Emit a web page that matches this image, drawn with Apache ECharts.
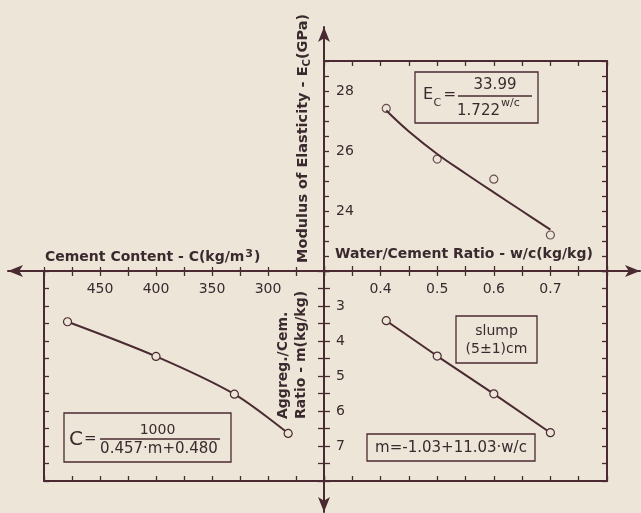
<!DOCTYPE html>
<html>
<head>
<meta charset="utf-8">
<script src="https://cdn.jsdelivr.net/npm/echarts@6/dist/echarts.min.js"></script>
<style>
  html, body { margin: 0; padding: 0; background: #ece5d8; }
  #chart { width: 641px; height: 513px; }
</style>
</head>
<body>
<div id="chart"></div>
<script>
// Modulus of elasticity vs water/cement ratio (upper right quadrant)
const ecPointsWC = [0.41, 0.50, 0.60, 0.70];
const ecPointsE  = [27.42, 25.73, 25.06, 23.20];
const ecCurveWC  = [0.41, 0.45, 0.50, 0.55, 0.60, 0.65, 0.70];
const ecCurveE   = [27.35, 26.65, 25.90, 25.25, 24.62, 24.00, 23.38];

// Aggregate/cement ratio vs water/cement ratio (lower right quadrant)
const mWC    = [0.41, 0.50, 0.60, 0.70];
const mRatio = [3.42, 4.43, 5.51, 6.62];

// Cement content vs aggregate/cement ratio (lower left quadrant)
const cContent = [479, 400, 330, 282];
const cRatio   = [3.45, 4.44, 5.52, 6.64];

// Tick labels
const wcLabels = [0.4, 0.5, 0.6, 0.7];
const ecLabels = [24, 26, 28];
const mLabels  = [3, 4, 5, 6, 7];
const cLabels  = [450, 400, 350, 300];

const INK = '#4a2a31';
const TXT = '#3a2a2e';
const BG = '#ece5d8';
const FONT = '"DejaVu Sans", Verdana, sans-serif';

function pick(list, digits) {
  return function (v) {
    const hit = list.find(l => Math.abs(l - v) < 1e-6);
    return hit === undefined ? '' : hit.toFixed(digits);
  };
}

// value axis helper: line, ticks and labels toggled per use
function axis(o) {
  return {
    type: 'value',
    gridIndex: o.grid,
    position: o.position,
    min: o.min, max: o.max, interval: o.interval,
    inverse: !!o.inverse,
    axisLine: { show: !!o.line, onZero: false, lineStyle: { color: INK, width: 2 } },
    axisTick: { show: o.tick !== false, inside: o.tickInside !== false, length: o.tickLen || 5,
                lineStyle: { color: INK, width: 1.3 } },
    axisLabel: o.labels ? { show: true, inside: true, margin: o.margin || 10,
                             formatter: o.labels, color: TXT, fontSize: 14, fontFamily: FONT }
                        : { show: false },
    splitLine: { show: false }
  };
}

const wcAxis = { min: 0.3, max: 0.8, interval: 0.05 };
const ecAxis = { min: 22, max: 29, interval: 0.5 };
const mAxis  = { min: 2, max: 8, interval: 0.5, inverse: true };
const cAxis  = { min: 250, max: 500, interval: 25, inverse: true };

function txt(x, y, text, size, align, extra) {
  return Object.assign({ type: 'text', x: x, y: y,
    style: { text: text, font: size + 'px ' + FONT, fill: TXT, align: align || 'center', verticalAlign: 'middle' } },
    extra || {});
}

const option = {
  backgroundColor: BG,
  animation: false,
  grid: [
    { left: 8, top: 27, width: 632, height: 485 },     // crossing main axes
    { left: 324, top: 61, width: 283, height: 210 },   // E_c vs w/c
    { left: 324, top: 271, width: 283, height: 210 },  // m vs w/c
    { left: 44, top: 271, width: 280, height: 210 }    // m vs C
  ],
  xAxis: [
    { type: 'value', gridIndex: 0, min: -316, max: 316,
      axisLine: { show: true, onZero: true, symbol: ['arrow', 'arrow'], symbolSize: [9, 15],
                  lineStyle: { color: INK, width: 2 } },
      axisTick: { show: false }, axisLabel: { show: false }, splitLine: { show: false } },
    axis(Object.assign({ grid: 1, position: 'bottom' }, wcAxis)),
    axis(Object.assign({ grid: 1, position: 'top', line: true }, wcAxis)),
    axis(Object.assign({ grid: 2, position: 'top', labels: pick(wcLabels, 1), margin: 11 }, wcAxis)),
    axis(Object.assign({ grid: 2, position: 'bottom', line: true }, wcAxis)),
    axis(Object.assign({ grid: 3, position: 'top', labels: pick(cLabels, 0), margin: 11 }, cAxis)),
    axis(Object.assign({ grid: 3, position: 'top', tickInside: false, tickLen: 4 }, cAxis)),
    axis(Object.assign({ grid: 3, position: 'bottom', line: true }, cAxis))
  ],
  yAxis: [
    { type: 'value', gridIndex: 0, min: -241, max: 244,
      axisLine: { show: true, onZero: true, symbol: ['arrow', 'arrow'], symbolSize: [9, 15],
                  lineStyle: { color: INK, width: 2 } },
      axisTick: { show: false }, axisLabel: { show: false }, splitLine: { show: false } },
    axis(Object.assign({ grid: 1, position: 'left', labels: pick(ecLabels, 0), margin: 12 }, ecAxis)),
    axis(Object.assign({ grid: 1, position: 'right', line: true }, ecAxis)),
    axis(Object.assign({ grid: 2, position: 'left', labels: pick(mLabels, 0), margin: 12, tickLen: 6 }, mAxis)),
    axis(Object.assign({ grid: 2, position: 'left', tickInside: false, tickLen: 6 }, mAxis)),
    axis(Object.assign({ grid: 2, position: 'right', line: true }, mAxis)),
    axis(Object.assign({ grid: 3, position: 'left', line: true }, mAxis))
  ],
  series: [
    { type: 'line', xAxisIndex: 1, yAxisIndex: 1, smooth: 0.4, showSymbol: false,
      data: ecCurveWC.map((x, i) => [x, ecCurveE[i]]),
      lineStyle: { color: INK, width: 2 } },
    { type: 'scatter', xAxisIndex: 1, yAxisIndex: 1, symbol: 'circle', symbolSize: 8,
      data: ecPointsWC.map((x, i) => [x, ecPointsE[i]]),
      itemStyle: { color: BG, borderColor: INK, borderWidth: 1.2 } },
    { type: 'line', xAxisIndex: 3, yAxisIndex: 3, symbol: 'circle', symbolSize: 8,
      data: mWC.map((x, i) => [x, mRatio[i]]),
      lineStyle: { color: INK, width: 2 },
      itemStyle: { color: BG, borderColor: INK, borderWidth: 1.2 } },
    { type: 'line', xAxisIndex: 5, yAxisIndex: 6, symbol: 'circle', symbolSize: 8, smooth: 0.3,
      data: cContent.map((x, i) => [x, cRatio[i]]),
      lineStyle: { color: INK, width: 2 },
      itemStyle: { color: BG, borderColor: INK, borderWidth: 1.2 } }
  ],
  graphic: [
    // axis titles
    { type: 'text', x: 45, y: 257.5,
      style: { text: 'Cement Content - C(kg/m{sup|3})', font: 'bold 14px ' + FONT, fill: TXT,
               align: 'left', verticalAlign: 'middle',
               rich: { sup: { fontSize: 11, fontWeight: 'bold', fontFamily: FONT, fill: TXT,
                              padding: [0, 1, 6, 1] } } } },
    { type: 'text', x: 335, y: 254,
      style: { text: 'Water/Cement Ratio - w/c(kg/kg)', font: 'bold 14px ' + FONT, fill: TXT,
               align: 'left', verticalAlign: 'middle' } },
    { type: 'text', x: 303.5, y: 263, rotation: Math.PI / 2,
      style: { text: 'Modulus of Elasticity - E{sub|C}(GPa)', font: 'bold 14.5px ' + FONT, fill: TXT,
               align: 'left', verticalAlign: 'middle',
               rich: { sub: { fontSize: 10, fontWeight: 'bold', fontFamily: FONT, fill: TXT,
                              padding: [8, 0, 0, 0] } } } },
    { type: 'text', x: 292, y: 419, rotation: Math.PI / 2,
      style: { text: 'Aggreg./Cem.\nRatio - m(kg/kg)', font: 'bold 14px ' + FONT, fill: TXT,
               align: 'left', verticalAlign: 'middle', lineHeight: 18 } },

    // E_c formula box
    { type: 'rect', shape: { x: 415, y: 72, width: 123, height: 51 },
      style: { fill: 'none', stroke: INK, lineWidth: 1.3 } },
    txt(423, 95, 'E', 16, 'left'),
    txt(433.5, 103, 'C', 11, 'left'),
    txt(443.5, 95, '=', 15, 'left'),
    txt(495, 85, '33.99', 15),
    { type: 'line', shape: { x1: 458, y1: 96, x2: 532, y2: 96 },
      style: { stroke: INK, lineWidth: 1.3 } },
    txt(500, 111, '1.722', 15, 'right'),
    txt(501, 103, 'w/c', 11, 'left'),

    // slump note
    { type: 'rect', shape: { x: 456, y: 316, width: 81, height: 47 },
      style: { fill: 'none', stroke: INK, lineWidth: 1.3 } },
    txt(496.5, 331, 'slump', 14),
    txt(496.5, 349.5, '(5±1)cm', 14),

    // m formula box
    { type: 'rect', shape: { x: 367, y: 434, width: 168, height: 27 },
      style: { fill: 'none', stroke: INK, lineWidth: 1.3 } },
    txt(451, 448, 'm=-1.03+11.03·w/c', 15),

    // C formula box
    { type: 'rect', shape: { x: 64, y: 413, width: 167, height: 49 },
      style: { fill: 'none', stroke: INK, lineWidth: 1.3 } },
    txt(69, 439.5, 'C', 20, 'left'),
    txt(84, 439.5, '=', 15, 'left'),
    txt(157.5, 430, '1000', 14),
    { type: 'line', shape: { x1: 100, y1: 439, x2: 220, y2: 439 },
      style: { stroke: INK, lineWidth: 1.3 } },
    txt(159, 449, '0.457·m+0.480', 15)
  ]
};

const chart = echarts.init(document.getElementById('chart'), null, { renderer: 'canvas' });
chart.setOption(option);
</script>
</body>
</html>
